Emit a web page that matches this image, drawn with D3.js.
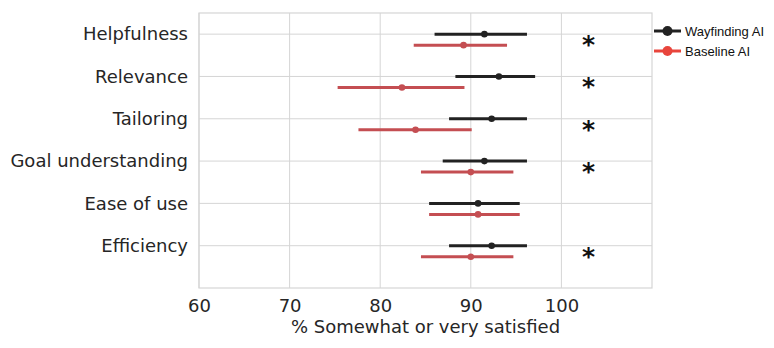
<!DOCTYPE html>
<html>
<head>
<meta charset="utf-8">
<script src="https://cdn.jsdelivr.net/npm/d3@7/dist/d3.min.js"></script>
<style>
  html, body { margin: 0; padding: 0; background: #fff; }
  svg { display: block; }
</style>
</head>
<body>
<svg id="chart" width="774" height="348"></svg>
<script>
// Satisfaction measures, top to bottom
const measures = ["Helpfulness", "Relevance", "Tailoring", "Goal understanding", "Ease of use", "Efficiency"];

// Wayfinding AI: point estimate and 95% interval
const wayPoint = [91.5, 93.1, 92.3, 91.5, 90.8, 92.3];
const wayLow   = [86.0, 88.3, 87.6, 86.9, 85.4, 87.6];
const wayHigh  = [96.2, 97.1, 96.2, 96.2, 95.4, 96.2];

// Baseline AI: point estimate and 95% interval
const basePoint = [89.2, 82.4, 83.9, 90.0, 90.8, 90.0];
const baseLow   = [83.7, 75.3, 77.6, 84.5, 85.4, 84.5];
const baseHigh  = [94.0, 89.3, 90.1, 94.7, 95.4, 94.7];

// Whether the difference is statistically significant
const significant = [true, true, true, true, false, true];

const xTicks = [60, 70, 80, 90, 100];
const seriesNames = ["Wayfinding AI", "Baseline AI"];

const svg = d3.select("#chart");
const plot = { left: 199, right: 652, top: 13, bottom: 288 };

const x = d3.scaleLinear().domain([60, 110]).range([plot.left, plot.right]);
const y = d3.scaleLinear().domain([-0.5, 6.0]).range([plot.top, plot.bottom]);

const darkColor = "#222222";
const redColor = "#c44e52";
const legendRed = "#e8453c";
const gridColor = "#d5d5d5";
const labelFont = "'DejaVu Sans', sans-serif";

// Plot frame and grid
const g = svg.append("g");
g.selectAll(".vgrid").data(xTicks).join("line")
  .attr("x1", d => x(d)).attr("x2", d => x(d))
  .attr("y1", plot.top).attr("y2", plot.bottom)
  .attr("stroke", gridColor).attr("stroke-width", 1);
g.selectAll(".hgrid").data(measures).join("line")
  .attr("x1", plot.left).attr("x2", plot.right)
  .attr("y1", (d, i) => y(i)).attr("y2", (d, i) => y(i))
  .attr("stroke", gridColor).attr("stroke-width", 1);
g.append("rect")
  .attr("x", plot.left).attr("y", plot.top)
  .attr("width", plot.right - plot.left).attr("height", plot.bottom - plot.top)
  .attr("fill", "none").attr("stroke", gridColor).attr("stroke-width", 1.2);

// X axis
const xAxis = d3.axisBottom(x).tickValues(xTicks).tickSize(0).tickPadding(11);
const ax = svg.append("g").attr("transform", `translate(0,${plot.bottom})`).call(xAxis);
ax.select(".domain").remove();
ax.selectAll("text")
  .attr("font-family", labelFont).attr("font-size", 18).attr("fill", "#262626");
svg.append("text")
  .attr("x", x(85)).attr("y", 333)
  .attr("text-anchor", "middle")
  .attr("font-family", labelFont).attr("font-size", 18).attr("fill", "#262626")
  .text("% Somewhat or very satisfied");

// Y axis labels
const yAxis = d3.axisLeft(y).tickValues(d3.range(measures.length))
  .tickFormat(i => measures[i]).tickSize(0).tickPadding(11);
const ay = svg.append("g").attr("transform", `translate(${plot.left},0)`).call(yAxis);
ay.select(".domain").remove();
ay.selectAll("text")
  .attr("font-family", labelFont).attr("font-size", 18).attr("fill", "#262626");

// Interval marks
const series = [
  { point: wayPoint, low: wayLow, high: wayHigh, color: darkColor, offset: 0 },
  { point: basePoint, low: baseLow, high: baseHigh, color: redColor, offset: 0.26 }
];
series.forEach(s => {
  const sg = svg.append("g");
  sg.selectAll("line").data(measures).join("line")
    .attr("x1", (d, i) => x(s.low[i])).attr("x2", (d, i) => x(s.high[i]))
    .attr("y1", (d, i) => y(i + s.offset)).attr("y2", (d, i) => y(i + s.offset))
    .attr("stroke", s.color).attr("stroke-width", 3);
  sg.selectAll("circle").data(measures).join("circle")
    .attr("cx", (d, i) => x(s.point[i])).attr("cy", (d, i) => y(i + s.offset))
    .attr("r", 3.3).attr("fill", s.color);
});

// Significance markers
svg.append("g").selectAll("text")
  .data(measures.map((m, i) => ({ i, sig: significant[i] })).filter(d => d.sig))
  .join("text")
  .attr("x", x(103)).attr("y", d => y(d.i) + 19)
  .attr("text-anchor", "middle")
  .attr("font-family", labelFont).attr("font-size", 25).attr("font-weight", "bold")
  .attr("fill", "#111")
  .text("*");

// Legend
const legend = svg.append("g");
const legendColors = [darkColor, legendRed];
seriesNames.forEach((name, k) => {
  const ly = 31 + k * 20;
  legend.append("line").attr("x1", 654).attr("x2", 681).attr("y1", ly).attr("y2", ly)
    .attr("stroke", legendColors[k]).attr("stroke-width", 3);
  legend.append("circle").attr("cx", 667.5).attr("cy", ly).attr("r", 5)
    .attr("fill", legendColors[k]);
  legend.append("text").attr("x", 685).attr("y", ly + 4.5)
    .attr("font-family", "'Liberation Sans', Arial, sans-serif").attr("font-size", 13)
    .attr("fill", "#111").text(name);
});
</script>
</body>
</html>
